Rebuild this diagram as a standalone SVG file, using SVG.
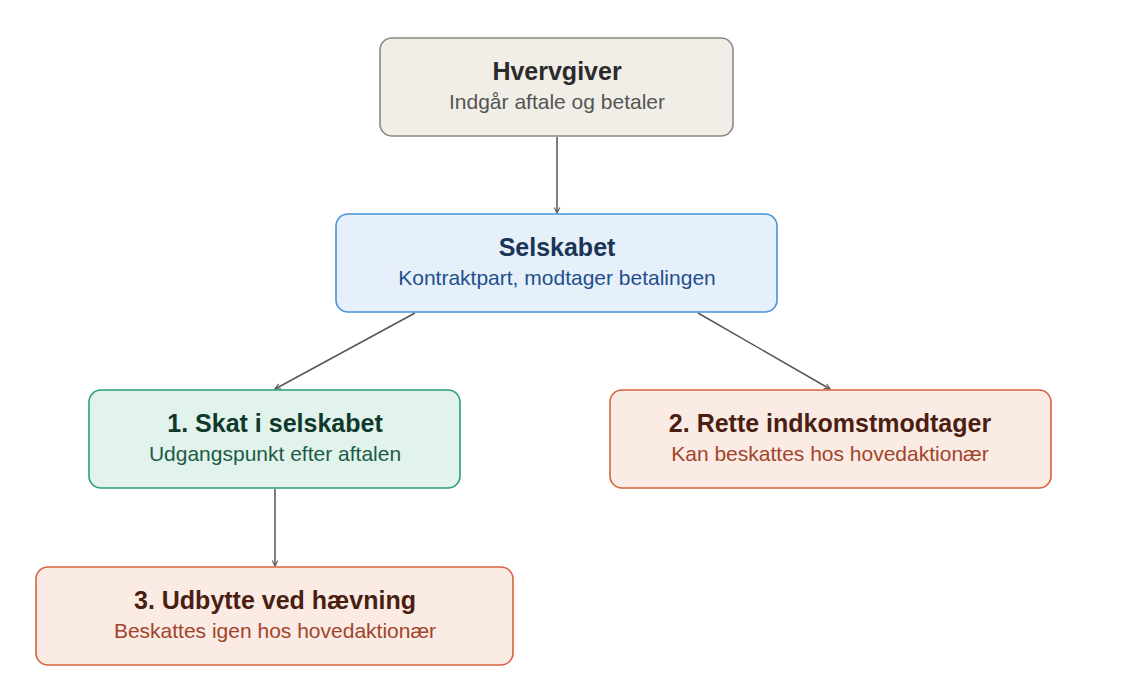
<svg xmlns="http://www.w3.org/2000/svg" width="1136" height="682" viewBox="0 0 1136 682">
<style>
.t{font-family:"Liberation Sans",Arial,sans-serif;font-size:25px;font-weight:bold;text-anchor:middle}
.s{font-family:"Liberation Sans",Arial,sans-serif;font-size:21px;text-anchor:middle}
.box{stroke-width:1.6}
.edge{stroke:#555;stroke-width:1.5;fill:none;marker-end:url(#arr)}
</style>
<defs>
<marker id="arr" viewBox="0 0 10 10" refX="9" refY="5" markerWidth="7" markerHeight="7" orient="auto" markerUnits="userSpaceOnUse">
<path d="M1,1 L9,5 L1,9" fill="none" stroke="#555" stroke-width="1.5"/>
</marker>
</defs>
<rect width="1136" height="682" fill="#fff"/>
<g id="connectors">
<path class="edge" d="M557,137 L557,213"/>
<path class="edge" d="M415,313 L275,389"/>
<path class="edge" d="M698,313 L830,389"/>
<path class="edge" d="M275,489 L275,566"/>
</g>
<g id="hvervgiver">
<rect class="box" x="380" y="38" width="353" height="98" rx="12" fill="#f1eee7" stroke="#8c8883"/>
<text class="t" x="557" y="80" fill="#2b2b2b">Hvervgiver</text>
<text class="s" x="557" y="109" fill="#555">Indgår aftale og betaler</text>
</g>
<g id="selskabet">
<rect class="box" x="336" y="214" width="441" height="98" rx="12" fill="#e6f0fb" stroke="#4a90d9"/>
<text class="t" x="557" y="256" fill="#1a3556">Selskabet</text>
<text class="s" x="557" y="285" fill="#1f4f8a">Kontraktpart, modtager betalingen</text>
</g>
<g id="skat">
<rect class="box" x="89" y="390" width="371" height="98" rx="12" fill="#e1f3ec" stroke="#2e9e72"/>
<text class="t" x="275" y="432" fill="#10392b">1. Skat i selskabet</text>
<text class="s" x="275" y="461" fill="#1e5b45">Udgangspunkt efter aftalen</text>
</g>
<g id="rette">
<rect class="box" x="610" y="390" width="441" height="98" rx="12" fill="#faebe5" stroke="#d9623a"/>
<text class="t" x="830" y="432" fill="#4a1e10">2. Rette indkomstmodtager</text>
<text class="s" x="830" y="461" fill="#a2442a">Kan beskattes hos hovedaktionær</text>
</g>
<g id="udbytte">
<rect class="box" x="36" y="567" width="477" height="98" rx="12" fill="#faebe5" stroke="#d9623a"/>
<text class="t" x="275" y="609" fill="#4a1e10">3. Udbytte ved hævning</text>
<text class="s" x="275" y="638" fill="#a2442a">Beskattes igen hos hovedaktionær</text>
</g>
</svg>
